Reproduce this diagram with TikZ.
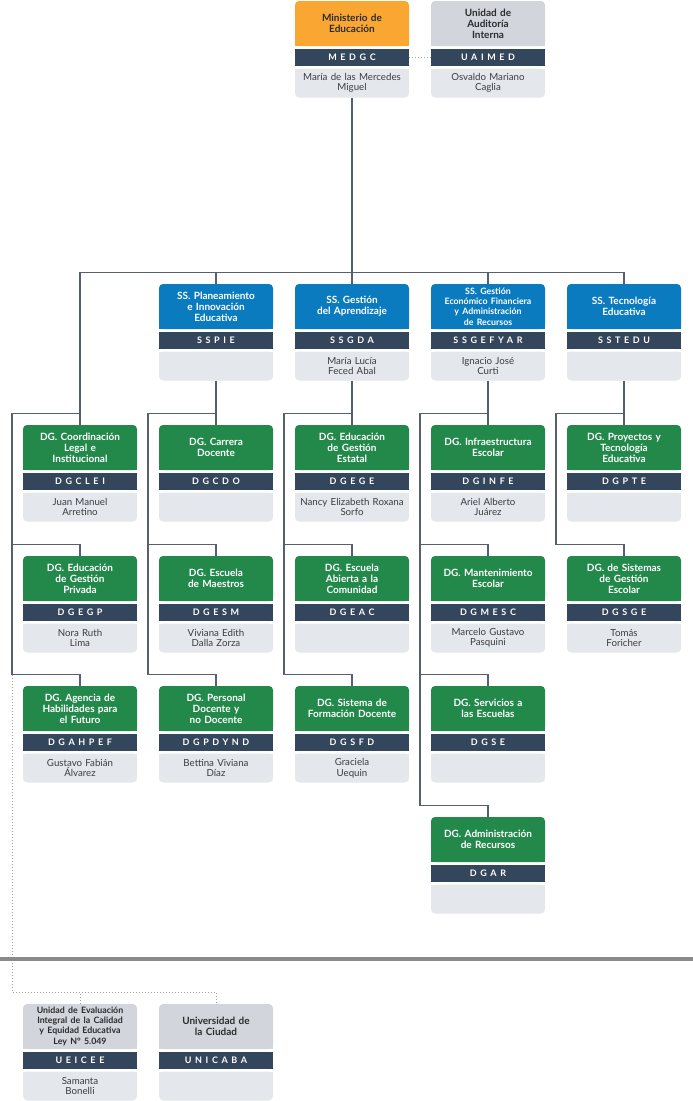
\documentclass[tikz,border=0pt]{standalone}
\usepackage{fontspec}
\setmainfont{Lato}
\newfontfamily\codefont[LetterSpace=40]{Lato}
\newcommand{\dense}{\fontsize{8.8}{10}\selectfont}

\definecolor{minorange}{HTML}{F9A732}
\definecolor{extgray}{HTML}{D2D6DC}
\definecolor{ssblue}{HTML}{0B7BC0}
\definecolor{dggreen}{HTML}{23894B}
\definecolor{bandblue}{HTML}{34465B}
\definecolor{namegray}{HTML}{E4E8ED}
\definecolor{headtext}{HTML}{2B2B2B}
\definecolor{nametext}{HTML}{3C3C3C}
\definecolor{linkgray}{HTML}{56606E}
\definecolor{dotgray}{HTML}{A2A2A2}
\definecolor{sepgray}{HTML}{8A8A8A}

\tikzset{
    boxhead/.style={rectangle, text width=112pt, inner xsep=1pt, inner ysep=0pt,
        minimum height=45pt, align=center, font=\fontsize{10}{11}\selectfont\bfseries},
    boxcode/.style={rectangle, fill=bandblue, text=white, minimum width=114pt,
        minimum height=17.5pt, inner sep=0pt, font=\fontsize{9}{10}\selectfont\codefont\bfseries},
    boxname/.style={rectangle, text=nametext, text width=112pt, inner xsep=1pt, inner ysep=0pt,
        minimum height=29pt, align=center, font=\fontsize{9.7}{10.5}\selectfont},
    ministry/.style={fill=minorange, text=headtext},
    external/.style={fill=extgray, text=headtext},
    secretariat/.style={fill=ssblue, text=white},
    direction/.style={fill=dggreen, text=white},
    link/.style={draw=linkgray, line width=1.2pt},
    dotlink/.style={draw=dotgray, line width=1pt, dotted},
    separator/.style={draw=sepgray, line width=4pt},
}

% #1 name, #2 left, #3 top, #4 kind, #5 title, #6 code, #7 person
\newcommand{\orgunit}[7]{%
    \fill[#4,rounded corners=4pt] (#2,#3) rectangle ++(114,45);
    \fill[#4] (#2,#3+38) rectangle ++(114,7);
    \node[boxhead,#4,fill=none] (#1) at (#2+57,#3+22.5) {#5};
    \node[boxcode] (#1-code) at (#2+57,#3+56.25) {#6};
    \fill[namegray,rounded corners=4pt] (#2,#3+67.5) rectangle ++(114,29);
    \fill[namegray] (#2,#3+67.5) rectangle ++(114,7);
    \node[boxname] (#1-name) at (#2+57,#3+82) {#7};
}

\begin{document}
\begin{tikzpicture}[x=1pt,y=-1pt]
\useasboundingbox (0,0) rectangle (693,1101);

\orgunit{medgc}{295}{1}{ministry}{Ministerio de\\Educación}{MEDGC}{María de las Mercedes\\Miguel}
\orgunit{uaimed}{431}{1}{external}{Unidad de\\Auditoría\\Interna}{UAIMED}{Osvaldo Mariano\\Caglia}

\orgunit{sspie}{159}{284}{secretariat}{SS. Planeamiento\\e Innovación\\Educativa}{SSPIE}{}
\orgunit{ssgda}{295}{284}{secretariat}{SS. Gestión\\del Aprendizaje}{SSGDA}{María Lucía\\Feced Abal}
\orgunit{ssgefyar}{431}{284}{secretariat}{\dense SS. Gestión\\Económico Financiera\\y Administración\\de Recursos}{SSGEFYAR}{Ignacio José\\Curti}
\orgunit{sstedu}{567}{284}{secretariat}{SS. Tecnología\\Educativa}{SSTEDU}{}

\orgunit{dgclei}{23}{425}{direction}{DG. Coordinación\\Legal e\\Institucional}{DGCLEI}{Juan Manuel\\Arretino}
\orgunit{dgcdo}{159}{425}{direction}{DG. Carrera\\Docente}{DGCDO}{}
\orgunit{dgege}{295}{425}{direction}{DG. Educación\\de Gestión\\Estatal}{DGEGE}{Nancy Elizabeth Roxana\\Sorfo}
\orgunit{dginfe}{431}{425}{direction}{DG. Infraestructura\\Escolar}{DGINFE}{Ariel Alberto\\Juárez}
\orgunit{dgpte}{567}{425}{direction}{DG. Proyectos y\\Tecnología\\Educativa}{DGPTE}{}

\orgunit{dgegp}{23}{556}{direction}{DG. Educación\\de Gestión\\Privada}{DGEGP}{Nora Ruth\\Lima}
\orgunit{dgesm}{159}{556}{direction}{DG. Escuela\\de Maestros}{DGESM}{Viviana Edith\\Dalla Zorza}
\orgunit{dgeac}{295}{556}{direction}{DG. Escuela\\Abierta a la\\Comunidad}{DGEAC}{}
\orgunit{dgmesc}{431}{556}{direction}{DG. Mantenimiento\\Escolar}{DGMESC}{Marcelo Gustavo\\Pasquini}
\orgunit{dgsge}{567}{556}{direction}{DG. de Sistemas\\de Gestión\\Escolar}{DGSGE}{Tomás\\Foricher}

\orgunit{dgahpef}{23}{686}{direction}{DG. Agencia de\\Habilidades para\\el Futuro}{DGAHPEF}{Gustavo Fabián\\Álvarez}
\orgunit{dgpdynd}{159}{686}{direction}{DG. Personal\\Docente y\\no Docente}{DGPDYND}{Bettina Viviana\\Díaz}
\orgunit{dgsfd}{295}{686}{direction}{DG. Sistema de\\Formación Docente}{DGSFD}{Graciela\\Uequin}
\orgunit{dgse}{431}{686}{direction}{DG. Servicios a\\las Escuelas}{DGSE}{}

\orgunit{dgar}{431}{817}{direction}{DG. Administración\\de Recursos}{DGAR}{}

\orgunit{ueicee}{23}{1004}{external}{\dense Unidad de Evaluación\\Integral de la Calidad\\y Equidad Educativa\\Ley N° 5.049}{UEICEE}{Samanta\\Bonelli}
\orgunit{unicaba}{159}{1004}{external}{Universidad de\\la Ciudad}{UNICABA}{}

\coordinate (bus) at (352,272.5);
\draw[link] (medgc-name.south) -- (bus);
\draw[link] (dgclei.north) |- (bus) -| (sstedu.north);
\foreach \headunit in {sspie,ssgda,ssgefyar}
    \draw[link] (\headunit.north) -- (\headunit.north |- bus);
\foreach \headunit/\firstdg in {sspie/dgcdo,ssgda/dgege,ssgefyar/dginfe,sstedu/dgpte}
    \draw[link] (\headunit-name.south) -- (\firstdg.north);
\foreach \firstdg/\lastdg in {dgclei/dgahpef,dgcdo/dgpdynd,dgege/dgsfd,dginfe/dgar,dgpte/dgsge}
    \draw[link] ([yshift=11pt]\firstdg.north) -| ([xshift=-68pt,yshift=11pt]\lastdg.north) -| (\lastdg.north);
\foreach \middg in {dgegp,dgesm,dgeac,dgmesc,dgse}
    \draw[link] ([xshift=-68pt,yshift=11pt]\middg.north) -| (\middg.north);

\draw[dotlink] (medgc-code.east) -- (uaimed-code.west);
\coordinate (extbus) at (12,992);
\draw[dotlink] ([xshift=-68pt,yshift=11pt]dgahpef.north) -- (extbus) -| (unicaba.north);
\draw[dotlink] (ueicee.north) -- (ueicee.north |- extbus);

\draw[separator] (0,959) -- (693,959);
\end{tikzpicture}
\end{document}
